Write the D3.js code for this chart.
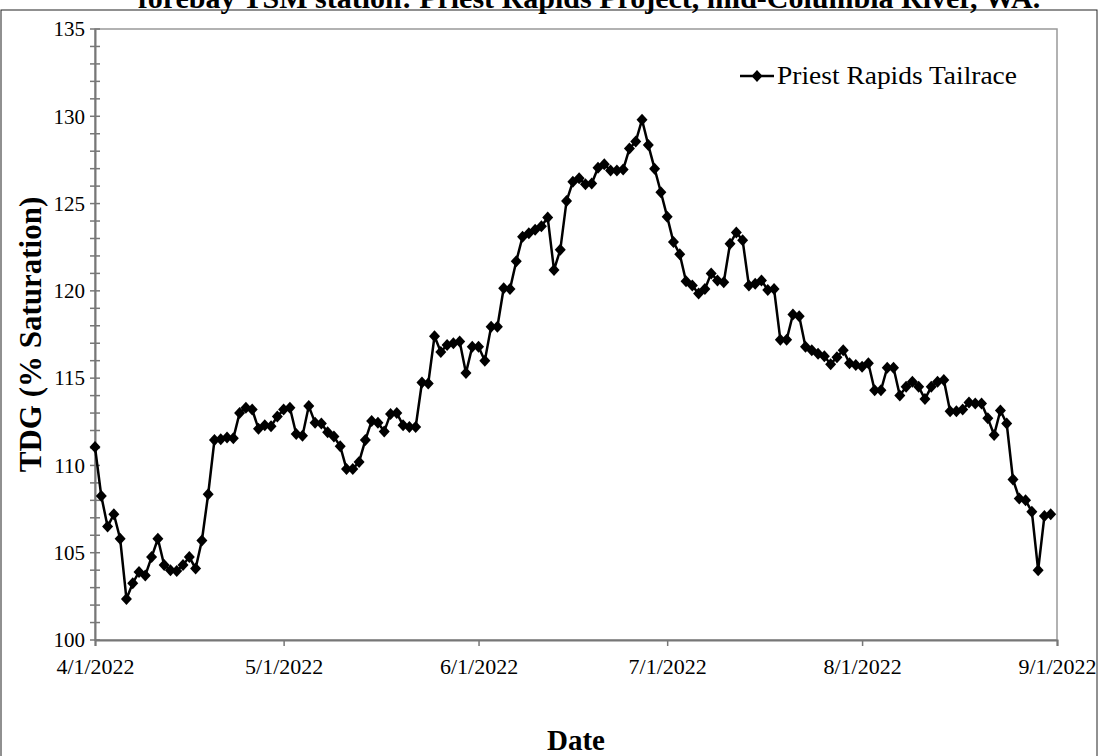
<!DOCTYPE html>
<meta charset="utf-8">
<script src="https://d3js.org/d3.v7.min.js"></script>
<style>
body { margin: 0; background: #fff; }
text { font-family: "Liberation Serif", "Times New Roman", serif; }
</style>
<body>
<div id="canvas"></div>
<script>

// daily TDG values (% saturation), one array per month
var aprilValues = [111.05, 108.25, 106.5, 107.2, 105.8, 102.35, 103.25, 103.9, 103.7, 104.75,
    105.8, 104.3, 104.0, 103.95, 104.3, 104.75, 104.1, 105.7, 108.35, 111.45,
    111.5, 111.6, 111.55, 113.0, 113.3, 113.2, 112.1, 112.3, 112.25, 112.8];
var mayValues = [113.2, 113.3, 111.8, 111.7, 113.4, 112.45, 112.4, 111.9, 111.65, 111.1,
    109.8, 109.8, 110.2, 111.45, 112.55, 112.45, 111.95, 112.95, 113.0, 112.3,
    112.2, 112.2, 114.75, 114.7, 117.4, 116.5, 116.9, 117.0, 117.1, 115.3, 116.8];
var juneValues = [116.8, 116.0, 117.95, 117.95, 120.15, 120.1, 121.7, 123.1, 123.3, 123.5,
    123.7, 124.2, 121.2, 122.35, 125.15, 126.25, 126.45, 126.1, 126.15, 127.05,
    127.25, 126.9, 126.9, 126.95, 128.15, 128.55, 129.8, 128.35, 127.0, 125.65];
var julyValues = [124.25, 122.8, 122.1, 120.55, 120.3, 119.85, 120.1, 121.0, 120.6, 120.5,
    122.7, 123.35, 122.9, 120.3, 120.4, 120.6, 120.05, 120.1, 117.2, 117.2,
    118.65, 118.55, 116.8, 116.6, 116.4, 116.25, 115.8, 116.2, 116.6, 115.85, 115.75];
var augustValues = [115.65, 115.85, 114.3, 114.3, 115.6, 115.6, 114.0, 114.5, 114.8, 114.5,
    113.8, 114.5, 114.8, 114.9, 113.1, 113.1, 113.2, 113.6, 113.55, 113.55,
    112.7, 111.75, 113.15, 112.4, 109.2, 108.1, 108.0, 107.35, 104.0, 107.1, 107.2];

var months = [
    {month: 3, values: aprilValues},
    {month: 4, values: mayValues},
    {month: 5, values: juneValues},
    {month: 6, values: julyValues},
    {month: 7, values: augustValues}
];
var xTickLabels = ["4/1/2022", "5/1/2022", "6/1/2022", "7/1/2022", "8/1/2022", "9/1/2022"];
var yTicks = [100, 105, 110, 115, 120, 125, 130, 135];
var seriesName = "Priest Rapids Tailrace";
var titleText = "forebay TSM station: Priest Rapids Project, mid-Columbia River, WA.";

var data = [];
months.forEach(function(m) {
    m.values.forEach(function(v, i) {
        data.push({date: new Date(2022, m.month, i + 1), value: v});
    });
});

var width = 1107;
var height = 756;

var svg = d3.select('#canvas')
    .append("svg")
    .attr("width", width)
    .attr("height", height);

// outer frame of the figure
svg.append("rect")
    .attr("x", 1).attr("y", 10)
    .attr("width", 1096).attr("height", 760)
    .attr("fill", "none")
    .attr("stroke", "#222")
    .attr("stroke-width", 1);

// title line (only its lower half shows in the original)
svg.append("text")
    .attr("x", 589).attr("y", 8)
    .attr("text-anchor", "middle")
    .attr("font-weight", "bold")
    .attr("font-size", "30px")
    .text(titleText);

var margin = {top: 29, right: 50, bottom: 116, left: 95};
var w = width - margin.left - margin.right;
var h = height - margin.top - margin.bottom;

var g = svg.append("g")
    .attr("transform", "translate(" + margin.left + "," + margin.top + ")");

var x = d3.scaleTime()
    .domain([new Date(2022, 3, 1), new Date(2022, 8, 1)])
    .range([0, w]);
var y = d3.scaleLinear()
    .domain([100, 135])
    .range([h, 0]);

// plot area border
g.append("rect")
    .attr("width", w).attr("height", h)
    .attr("fill", "none")
    .attr("stroke", "#999")
    .attr("stroke-width", 1.5);

// y minor ticks (cross the axis)
g.append("g")
    .selectAll("line")
    .data(d3.range(100, 136, 1))
    .enter().append("line")
    .attr("x1", -5).attr("x2", 5)
    .attr("y1", function(d) { return y(d); })
    .attr("y2", function(d) { return y(d); })
    .attr("stroke", "#777")
    .attr("stroke-width", 1.5);

// y axis
var yAxis = d3.axisLeft(y).tickValues(yTicks).tickSize(0).tickPadding(10);
var yg = g.append("g").call(yAxis);
yg.select(".domain").attr("stroke", "#777").attr("stroke-width", 2);
yg.selectAll("text")
    .attr("font-family", "Liberation Serif")
    .attr("font-size", "21px")
    .attr("fill", "#000");

// x axis
var xDates = xTickLabels.map(function(s) {
    var p = s.split("/");
    return new Date(+p[2], +p[0] - 1, +p[1]);
});
var xAxis = d3.axisBottom(x)
    .tickValues(xDates)
    .tickSize(6)
    .tickPadding(12)
    .tickFormat(function(d, i) { return xTickLabels[i]; });
var xg = g.append("g")
    .attr("transform", "translate(0," + h + ")")
    .call(xAxis);
xg.select(".domain").attr("stroke", "#777").attr("stroke-width", 2);
xg.selectAll("line").attr("stroke", "#777").attr("stroke-width", 1.5);
xg.selectAll("text")
    .attr("font-family", "Liberation Serif")
    .attr("font-size", "22px")
    .attr("fill", "#000");

// series line
var line = d3.line()
    .x(function(d) { return x(d.date); })
    .y(function(d) { return y(d.value); });

g.append("path")
    .datum(data)
    .attr("d", line)
    .attr("fill", "none")
    .attr("stroke", "#000")
    .attr("stroke-width", 2.5);

// Excel-like diamond marker
var diamondType = {
    draw: function(ctx) {
        ctx.moveTo(0, -6);
        ctx.lineTo(5.5, 0);
        ctx.lineTo(0, 6);
        ctx.lineTo(-5.5, 0);
        ctx.closePath();
    }
};
var diamond = d3.symbol().type(diamondType);

g.selectAll(".pt")
    .data(data)
    .enter().append("path")
    .attr("class", "pt")
    .attr("d", diamond)
    .attr("transform", function(d) { return "translate(" + x(d.date) + "," + y(d.value) + ")"; })
    .attr("fill", "#000");

// legend
var lg = svg.append("g").attr("transform", "translate(740,76)");
lg.append("line")
    .attr("x1", 0).attr("x2", 34)
    .attr("stroke", "#000").attr("stroke-width", 2.5);
lg.append("path")
    .attr("d", diamond)
    .attr("transform", "translate(17,0)");
lg.append("text")
    .attr("x", 37).attr("y", 8)
    .attr("font-family", "Liberation Serif")
    .attr("font-size", "25px")
    .attr("textLength", 240)
    .attr("lengthAdjust", "spacingAndGlyphs")
    .text(seriesName);

// axis titles
svg.append("text")
    .attr("transform", "translate(41," + (margin.top + h / 2) + ") rotate(-90)")
    .attr("text-anchor", "middle")
    .attr("font-weight", "bold")
    .attr("font-size", "31px")
    .text("TDG (% Saturation)");

svg.append("text")
    .attr("x", 576)
    .attr("y", 750)
    .attr("text-anchor", "middle")
    .attr("font-weight", "bold")
    .attr("font-size", "29px")
    .text("Date");

</script>
</body>
